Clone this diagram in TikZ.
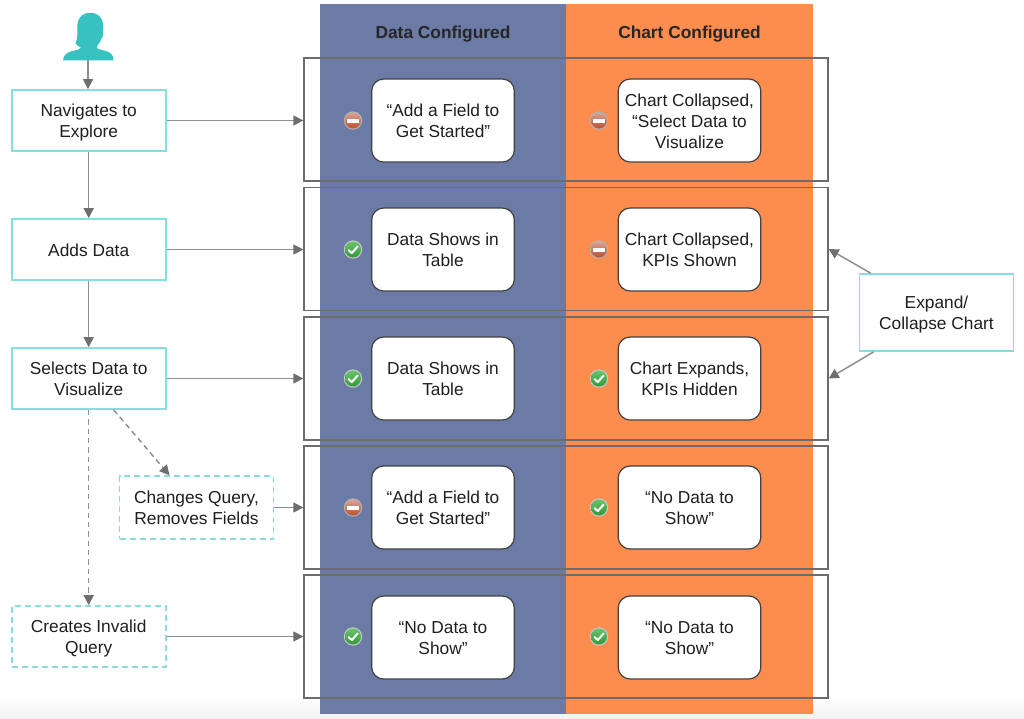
\documentclass[tikz,border=0pt]{standalone}
\usepackage{fontspec}
\setmainfont{Liberation Sans}
\usetikzlibrary{arrows.meta,calc,positioning}
\definecolor{bandblue}{HTML}{6B7BA6}
\definecolor{bandorange}{HTML}{FC8D4E}
\definecolor{tealbox}{HTML}{88DEDF}
\definecolor{person}{HTML}{38C1C1}
\definecolor{frameline}{HTML}{6C6C6C}
\definecolor{linkline}{HTML}{8E8E8E}
\definecolor{linktip}{HTML}{6E6E6E}
\definecolor{stoptop}{HTML}{D8A496}
\definecolor{stopbot}{HTML}{BC4E30}
\definecolor{goodtop}{HTML}{6CC46C}
\definecolor{goodbot}{HTML}{2F9A3A}
\newcommand{\lifta}{\rule{0pt}{13.5pt}}
\newcommand{\liftb}{\rule{0pt}{14pt}}
\tikzset{
  x=0.75pt,y=-0.75pt,
  txt/.style={font=\fontsize{13}{15.5}\selectfont,align=center,text=black!88,inner sep=0pt,
    execute at end node={\rule[-3.5pt]{0pt}{3.5pt}}},
  stepbox/.style={txt,draw=tealbox,line width=1.3pt,fill=white,minimum width=115.5pt,minimum height=45.75pt},
  dashbox/.style={stepbox,dash pattern=on 4.5pt off 3pt},
  rowframe/.style={draw=frameline,line width=1pt,minimum width=393pt,minimum height=92.25pt,inner sep=0pt},
  msgbox/.style={txt,draw=black!75,line width=0.9pt,fill=white,rounded corners=9pt,minimum width=107pt,minimum height=62.25pt},
  heading/.style={font=\fontsize{13}{15.5}\selectfont\bfseries,text=black!85,inner sep=0pt},
  link/.style={draw=linkline,line width=1.1pt,-{Triangle[length=7.5pt,width=7.5pt,color=linktip,fill=linktip]}},
  dashlink/.style={link,dash pattern=on 4pt off 3pt},
  stopic/.pic={
    \fill[black!30] (0,0) circle (6.9pt);
    \shade[top color=stoptop,bottom color=stopbot] (0,0) circle (6pt);
    \fill[white] (-6,-1.7) rectangle (6,2);
  },
  okic/.pic={
    \fill[black!22] (0,0) circle (6.9pt);
    \shade[top color=goodtop,bottom color=goodbot] (0,0) circle (6pt);
    \draw[white,line width=1.5pt,line cap=round,line join=round] (-4.5,0.5) -- (-1.2,3.6) -- (4.6,-3);
  },
}
\begin{document}
\begin{tikzpicture}
\useasboundingbox (0,0) rectangle (1024,718);
\fill[white] (0,0) rectangle (1024,718);
\shade[top color=white,bottom color=black!5,draw=none] (0,695) rectangle (1024,718);
% bands
\fill[bandblue] (320,4) rectangle (566,714);
\fill[bandorange] (566,4) rectangle (813,714);
\node[heading] (titleA) at (443,34.5) {Data Configured};
\node[heading] (titleB) at (689.5,34.5) {Chart Configured};
% row frames
\node[rowframe] (row1) at (566,119.5) {};
\node[rowframe] (row2) at (566,249) {};
\node[rowframe] (row3) at (566,378.5) {};
\node[rowframe] (row4) at (566,507.5) {};
\node[rowframe] (row5) at (566,636.5) {};
% message boxes
\node[msgbox] (a1) at (443,120.5) {\lifta “Add a Field to\\Get Started”};
\node[msgbox] (b1) at (689.5,120.5) {\liftb Chart Collapsed,\\“Select Data to\\Visualize};
\node[msgbox] (a2) at (443,249.5) {\lifta Data Shows in\\Table};
\node[msgbox] (b2) at (689.5,249.5) {\lifta Chart Collapsed,\\KPIs Shown};
\node[msgbox] (a3) at (443,378.5) {\lifta Data Shows in\\Table};
\node[msgbox] (b3) at (689.5,378.5) {\lifta Chart Expands,\\KPIs Hidden};
\node[msgbox] (a4) at (443,507.5) {\lifta “Add a Field to\\Get Started”};
\node[msgbox] (b4) at (689.5,507.5) {\lifta “No Data to\\Show”};
\node[msgbox] (a5) at (443,637.5) {\lifta “No Data to\\Show”};
\node[msgbox] (b5) at (689.5,637.5) {\lifta “No Data to\\Show”};
% status icons
\pic at (353,120.5) {stopic};
\pic at (599,120.5) {stopic};
\pic at (353,249.5) {okic};
\pic at (599,249.5) {stopic};
\pic at (353,378.5) {okic};
\pic at (599,378.5) {okic};
\pic at (353,507.5) {stopic};
\pic at (599,507.5) {okic};
\pic at (353,636.5) {okic};
\pic at (599,636.5) {okic};
% person
\fill[person] (63,60.3) .. controls (63.5,54) and (68,52) .. (73,50.8)
  .. controls (77,50) and (80,49.5) .. (81,47.5)
  .. controls (79,46.5) and (76,45) .. (75.5,43)
  .. controls (75,41.5) and (78,40.5) .. (77,38)
  .. controls (78,32) and (77,28) .. (77.5,24)
  .. controls (78.5,16) and (84,12.8) .. (90,12.8)
  .. controls (98,12.8) and (102.5,17) .. (103,25)
  .. controls (103.3,30) and (102.5,33) .. (103,36)
  .. controls (101.5,37.5) and (101,40) .. (100,42)
  .. controls (98.5,44) and (97,45.5) .. (96.5,47.5)
  .. controls (98,49.5) and (102,50) .. (105,50.8)
  .. controls (110,52) and (113.5,54.5) .. (113.5,60.3) -- cycle;
\coordinate (user) at (88,60);
% left column
\node[stepbox] (nav) at (88.7,120.5) {\lifta Navigates to\\Explore};
\node[stepbox] (add) at (88.7,249.5) {\rule{0pt}{14pt}Adds Data};
\node[stepbox] (sel) at (88.7,378.5) {\lifta Selects Data to\\Visualize};
\node[dashbox,minimum height=47pt] (chg) at (196.5,507.5) {\lifta Changes Query,\\Removes Fields};
\node[dashbox] (inv) at (88.7,636.5) {\lifta Creates Invalid\\Query};
\node[stepbox,minimum height=57.75pt] (exp) at (936.5,312.5) {\lifta Expand/\\Collapse Chart};
% connectors
\draw[link] (user) -- (nav.north -| user);
\draw[link] (nav) -- (add);
\draw[link] (add) -- (sel);
\draw[link] (nav) -- (nav -| row1.west);
\draw[link] (add) -- (add -| row2.west);
\draw[link] (sel) -- (sel -| row3.west);
\draw[link] (chg) -- (chg -| row4.west);
\draw[link] (inv) -- (inv -| row5.west);
\draw[dashlink] (sel) -- (inv);
\coordinate (selfoot) at ($(sel.south)+(25,0)$);
\coordinate (chgtop) at ($(chg.north)+(-27,0)$);
\draw[dashlink] (selfoot) -- (chgtop);
\coordinate (exptop) at ($(exp.north west)+(12,0)$);
\coordinate (expfoot) at ($(exp.south west)+(15,0)$);
\draw[link] (exptop) -- (row2.east);
\draw[link] (expfoot) -- (row3.east);
\end{tikzpicture}
\end{document}
